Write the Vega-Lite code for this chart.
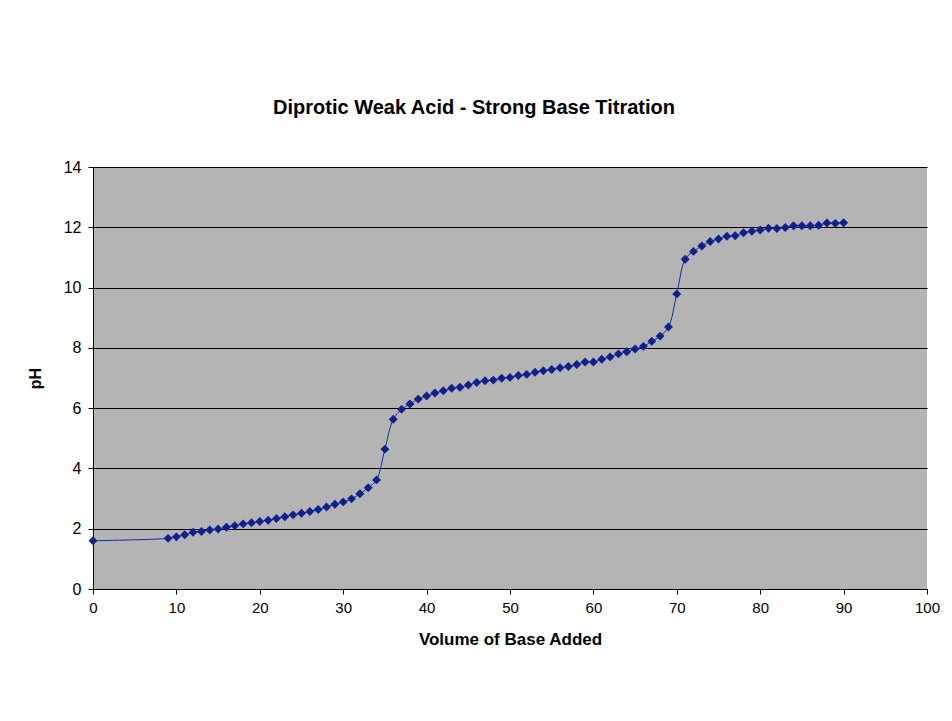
{
  "$schema": "https://vega.github.io/schema/vega-lite/v6.json",
  "width": 834,
  "height": 422,
  "autosize": "none",
  "padding": {"left": 93, "top": 167, "right": 25, "bottom": 132},
  "background": "white",
  "title": {
    "text": "Diprotic Weak Acid - Strong Base Titration",
    "font": "Liberation Sans",
    "fontSize": 20,
    "fontWeight": "bold",
    "color": "black",
    "anchor": "middle",
    "dx": -36,
    "offset": 41
  },
  "config": {
    "view": {"fill": "#b4b4b4", "stroke": null},
    "axis": {
      "domainColor": "black",
      "tickColor": "black",
      "gridColor": "black",
      "gridOpacity": 1,
      "gridWidth": 1,
      "labelColor": "black",
      "titleColor": "black",
      "labelFont": "Liberation Sans",
      "titleFont": "Liberation Sans",
      "titleFontWeight": "bold",
      "tickSize": 5
    }
  },
  "data": {
    "values": [
      {"volume": 0, "pH": 1.60},
      {"volume": 9, "pH": 1.68},
      {"volume": 10, "pH": 1.73},
      {"volume": 11, "pH": 1.80},
      {"volume": 12, "pH": 1.88},
      {"volume": 13, "pH": 1.91},
      {"volume": 14, "pH": 1.96},
      {"volume": 15, "pH": 1.99},
      {"volume": 16, "pH": 2.05},
      {"volume": 17, "pH": 2.10},
      {"volume": 18, "pH": 2.16},
      {"volume": 19, "pH": 2.20},
      {"volume": 20, "pH": 2.24},
      {"volume": 21, "pH": 2.28},
      {"volume": 22, "pH": 2.34},
      {"volume": 23, "pH": 2.40},
      {"volume": 24, "pH": 2.46},
      {"volume": 25, "pH": 2.51},
      {"volume": 26, "pH": 2.57},
      {"volume": 27, "pH": 2.64},
      {"volume": 28, "pH": 2.72},
      {"volume": 29, "pH": 2.81},
      {"volume": 30, "pH": 2.89},
      {"volume": 31, "pH": 2.99},
      {"volume": 32, "pH": 3.16},
      {"volume": 33, "pH": 3.36},
      {"volume": 34, "pH": 3.62},
      {"volume": 35, "pH": 4.64},
      {"volume": 36, "pH": 5.63},
      {"volume": 37, "pH": 5.96},
      {"volume": 38, "pH": 6.14},
      {"volume": 39, "pH": 6.30},
      {"volume": 40, "pH": 6.40},
      {"volume": 41, "pH": 6.50},
      {"volume": 42, "pH": 6.58},
      {"volume": 43, "pH": 6.66},
      {"volume": 44, "pH": 6.69},
      {"volume": 45, "pH": 6.77},
      {"volume": 46, "pH": 6.85},
      {"volume": 47, "pH": 6.91},
      {"volume": 48, "pH": 6.93},
      {"volume": 49, "pH": 6.99},
      {"volume": 50, "pH": 7.02},
      {"volume": 51, "pH": 7.08},
      {"volume": 52, "pH": 7.12},
      {"volume": 53, "pH": 7.19},
      {"volume": 54, "pH": 7.24},
      {"volume": 55, "pH": 7.28},
      {"volume": 56, "pH": 7.34},
      {"volume": 57, "pH": 7.38},
      {"volume": 58, "pH": 7.45},
      {"volume": 59, "pH": 7.53},
      {"volume": 60, "pH": 7.53},
      {"volume": 61, "pH": 7.62},
      {"volume": 62, "pH": 7.70},
      {"volume": 63, "pH": 7.80},
      {"volume": 64, "pH": 7.87},
      {"volume": 65, "pH": 7.96},
      {"volume": 66, "pH": 8.05},
      {"volume": 67, "pH": 8.22},
      {"volume": 68, "pH": 8.39},
      {"volume": 69, "pH": 8.69},
      {"volume": 70, "pH": 9.79},
      {"volume": 71, "pH": 10.94},
      {"volume": 72, "pH": 11.20},
      {"volume": 73, "pH": 11.38},
      {"volume": 74, "pH": 11.53},
      {"volume": 75, "pH": 11.61},
      {"volume": 76, "pH": 11.70},
      {"volume": 77, "pH": 11.72},
      {"volume": 78, "pH": 11.82},
      {"volume": 79, "pH": 11.87},
      {"volume": 80, "pH": 11.91},
      {"volume": 81, "pH": 11.97},
      {"volume": 82, "pH": 11.96},
      {"volume": 83, "pH": 11.99},
      {"volume": 84, "pH": 12.05},
      {"volume": 85, "pH": 12.05},
      {"volume": 86, "pH": 12.05},
      {"volume": 87, "pH": 12.07},
      {"volume": 88, "pH": 12.14},
      {"volume": 89, "pH": 12.13},
      {"volume": 90, "pH": 12.15}
    ]
  },
  "encoding": {
    "x": {
      "field": "volume",
      "type": "quantitative",
      "title": "Volume of Base Added",
      "scale": {"domain": [0, 100], "nice": false, "zero": false},
      "axis": {
        "values": [0, 10, 20, 30, 40, 50, 60, 70, 80, 90, 100],
        "grid": false,
        "labelFont": "Liberation Sans Narrow, Liberation Sans",
        "labelFontSize": 15,
        "labelPadding": 6,
        "labelFlush": false,
        "titleFontSize": 17,
        "titlePadding": 16
      }
    },
    "y": {
      "field": "pH",
      "type": "quantitative",
      "title": "pH",
      "scale": {"domain": [0, 14], "nice": false},
      "axis": {
        "values": [0, 2, 4, 6, 8, 10, 12, 14],
        "grid": true,
        "labelFontSize": 16,
        "labelPadding": 7,
        "labelFlush": false,
        "titleFontSize": 16,
        "titlePadding": 20
      }
    }
  },
  "layer": [
    {
      "mark": {"type": "line", "interpolate": "catmull-rom", "color": "#1a2a9c", "strokeWidth": 1}
    },
    {
      "mark": {"type": "point", "shape": "diamond", "filled": true, "size": 80, "color": "#10208e", "opacity": 1}
    }
  ]
}
